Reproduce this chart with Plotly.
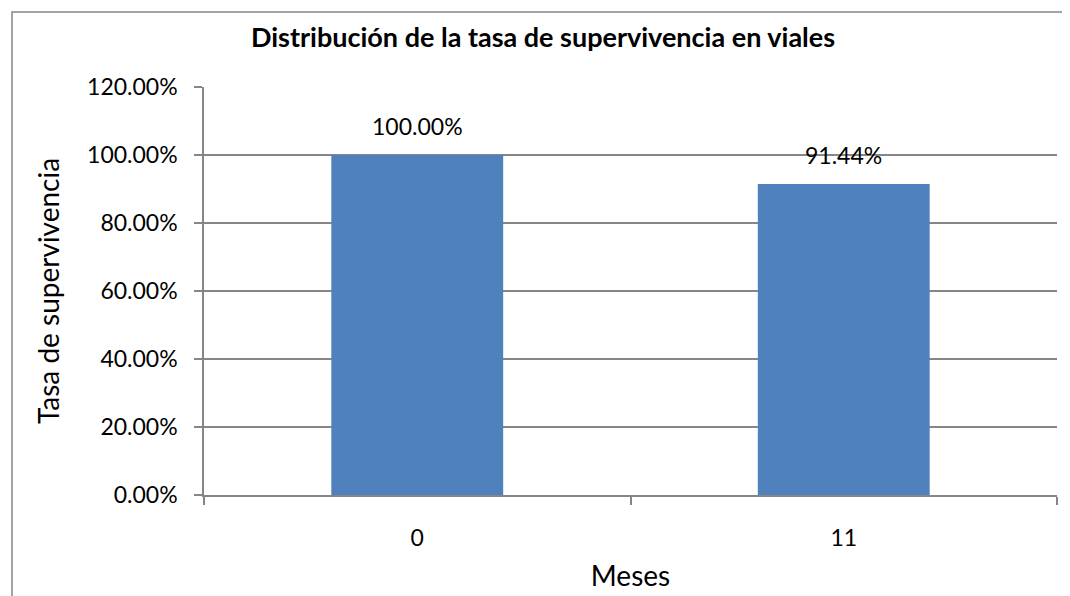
import plotly.graph_objects as go

categories = ["0", "11"]
values = [1.0, 0.9144]
labels = ["100.00%", "91.44%"]
tick_vals = [0, 0.2, 0.4, 0.6, 0.8, 1.0, 1.2]
tick_text = ["0.00%", "20.00%", "40.00%", "60.00%", "80.00%", "100.00%", "120.00%"]

FONT = "Lato, 'Open Sans', sans-serif"
GRID = "#868686"

fig = go.Figure()
fig.add_trace(go.Bar(
    x=categories, y=values,
    marker=dict(color="#4F81BD", line=dict(width=0)),
    width=0.403,
    hoverinfo="skip",
))

for i, (v, t) in enumerate(zip(values, labels)):
    fig.add_annotation(x=i, y=v, text=t, showarrow=False, xanchor="center",
                       yanchor="bottom", yshift=13,
                       font=dict(family=FONT, size=23, color="black"))

fig.update_layout(
    width=1070, height=596,
    margin=dict(l=196, r=21, t=79, b=109),
    paper_bgcolor="white", plot_bgcolor="white",
    showlegend=False,
    title=dict(text="<b>Distribución de la tasa de supervivencia en viales</b>",
               x=(543 - 204) / 853, xref="paper", xanchor="center", y=0.95, yref="container", yanchor="middle",
               font=dict(family=FONT, size=27, color="black")),
    xaxis=dict(
        type="category", range=[-0.5, 1.5], tickson="boundaries", ticks="outside", ticklen=8,
        tickcolor=GRID, tickwidth=1.5, showline=True, linecolor=GRID, linewidth=1.5,
        showgrid=False, tickfont=dict(family=FONT, size=23, color="black"),
        ticklabelstandoff=22, automargin=False,
        title=dict(text="Meses", font=dict(family=FONT, size=28, color="black"), standoff=16),
    ),
    yaxis=dict(
        range=[0, 1.2], tickvals=tick_vals, ticktext=tick_text, ticks="outside", ticklen=8,
        tickcolor=GRID, tickwidth=1.5, showline=True, linecolor=GRID, linewidth=1.5,
        showgrid=True, gridcolor=GRID, gridwidth=1.5, zeroline=False,
        tickfont=dict(family=FONT, size=23, color="black"),
        ticklabelstandoff=12, automargin=False,
        title=dict(text="Tasa de supervivencia", font=dict(family=FONT, size=28, color="black"), standoff=19),
    ),
)

# outer chart border: only its top and left sides fall inside the visible window
bx0 = (12 - 204) / 853
by1 = (495 - 12) / 408
fig.add_shape(type="path", xref="paper", yref="paper",
              path=f"M {bx0},-0.5 L {bx0},{by1} L 1.3,{by1}",
              line=dict(color=GRID, width=1.5), layer="below")

fig.write_html("out.html")
